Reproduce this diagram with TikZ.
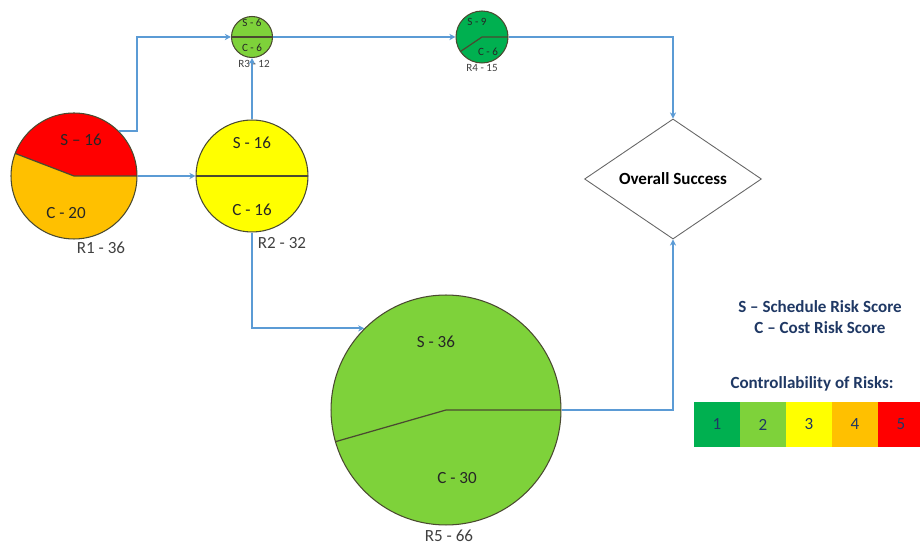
\documentclass[tikz,border=0pt]{standalone}
\usepackage{fontspec}
\setmainfont{Carlito}
\usetikzlibrary{positioning,shapes.geometric,arrows.meta}
\definecolor{riskred}{HTML}{FF0000}
\definecolor{riskorange}{HTML}{FFC000}
\definecolor{riskyellow}{HTML}{FFFF00}
\definecolor{risklime}{HTML}{7ED23A}
\definecolor{riskgreen}{HTML}{00B050}
\definecolor{flowblue}{HTML}{5B9BD5}
\definecolor{rimcol}{HTML}{4A4A30}
\definecolor{inkcol}{HTML}{262626}
\definecolor{tagcol}{HTML}{404040}
\definecolor{navy}{HTML}{1F3864}
\tikzset{
  risk/.style={circle,draw=rimcol,line width=0.6pt,inner sep=0pt},
  riskcut/.style={path picture={\draw[rimcol,line width=0.7pt]
      (path picture bounding box.east) -- (path picture bounding box.center) -- ++(#1:3cm);}},
  flow/.style={draw=flowblue,line width=1.3pt,-{Stealth[length=3.5pt,width=3.5pt]}},
  score/.style={font=\fontsize{9.7}{11}\selectfont,text=inkcol},
  tiny score/.style={font=\fontsize{6.3}{7}\selectfont,text=inkcol},
  tag/.style={font=\fontsize{9.7}{11}\selectfont,text=tagcol},
  tiny tag/.style={font=\fontsize{6.3}{7}\selectfont,text=tagcol},
  keybox/.style={minimum width=0.92cm,minimum height=0.9cm,inner sep=0pt,outer sep=0pt,
      text=navy,font=\fontsize{9.7}{11}\selectfont},
}

\begin{document}
\begin{tikzpicture}[x=0.02cm,y=0.02cm]
    \useasboundingbox (0,0) rectangle (920,544);

    % risks
    \node[risk,fill=riskorange,minimum size=2.52cm,
      path picture={\fill[riskred] (path picture bounding box.center) -- ++(0:2cm)
          arc[start angle=0,end angle=159,radius=2cm] -- cycle;
        \draw[rimcol,line width=0.7pt] (path picture bounding box.east)
          -- (path picture bounding box.center) -- ++(159:3cm);}] (r1) at (74,368) {};
    \node[risk,fill=riskyellow,minimum size=2.24cm,riskcut=180] (r2) at (252,368) {};
    \node[risk,fill=risklime,minimum size=0.82cm,riskcut=180] (r3) at (252,507) {};
    \node[risk,fill=riskgreen,minimum size=1.04cm,riskcut=214] (r4) at (482,507) {};
    \node[risk,fill=risklime,minimum size=4.6cm,riskcut=196] (r5) at (446,134) {};
    \node[diamond,draw=black!60,line width=0.5pt,inner sep=0pt,minimum width=3.54cm,
      minimum height=2.3cm,font=\fontsize{9.7}{11}\selectfont\bfseries] (goal) at (673,365) {Overall Success};

    % scores
    \node[score] (s1) at (81,404) {S – 16};
    \node[score] (c1) at (66,331) {C - 20};
    \node[tag] (t1) at (101,296) {R1 - 36};
    \node[score] (s2) at (252,401) {S - 16};
    \node[score] (c2) at (252,334) {C - 16};
    \node[tag] (t2) at (282,301) {R2 - 32};
    \node[tiny score] (s3) at (252,521) {S - 6};
    \node[tiny score] (c3) at (252,496) {C - 6};
    \node[tiny score] (s4) at (477,522) {S - 9};
    \node[tiny score] (c4) at (488,492) {C - 6};
    \node[tiny tag] (t4) at (482,476) {R4 - 15};
    \node[score] (s5) at (436,202) {S - 36};
    \node[score] (c5) at (457,66) {C - 30};
    \node[tag] (t5) at (449,8) {R5 - 66};

    % links
    \coordinate (bend) at (137,507);
    \draw[flow] (r1.45) -| (bend) -- (r3);
    \draw[flow] (r1) -- (r2);
    \draw[flow] (r2) -- (r3);
    \draw[flow] (r3) -- (r4);
    \draw[flow] (r4) -| (goal);
    \draw[flow] (r2) |- (r5.135);
    \draw[flow] (r5) -| (goal);
    \node[tiny tag] (t3) at (254,480) {R3 - 12};

    % legend
    \node[text=navy,align=center,font=\fontsize{9.7}{12}\selectfont\bfseries] (keytext) at (820,227)
      {S – Schedule Risk Score\\C – Cost Risk Score};
    \node[text=navy,font=\fontsize{9.7}{11}\selectfont\bfseries] (keyhead) at (812,160) {Controllability of Risks:};
    \node[keybox,fill=riskgreen] (k1) at (717,119.5) {1};
    \node[keybox,fill=risklime,right=0pt of k1] (k2) {2};
    \node[keybox,fill=riskyellow,right=0pt of k2] (k3) {3};
    \node[keybox,fill=riskorange,right=0pt of k3] (k4) {4};
    \node[keybox,fill=riskred,right=0pt of k4] (k5) {5};
  \end{tikzpicture}
\end{document}
